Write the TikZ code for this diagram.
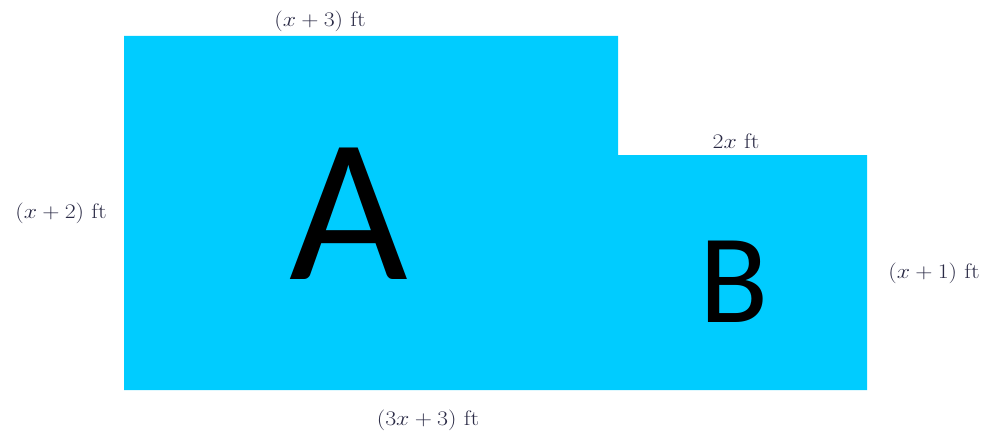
\documentclass[tikz,border=0pt]{standalone}
\usepackage{fontspec}
\newfontfamily\letterfont{Carlito}
\definecolor{pool}{HTML}{00CCFF}
\definecolor{ink}{HTML}{2A2A45}
\begin{document}
\begin{tikzpicture}[x=1pt,y=-1pt,
  dim/.style={text=ink,font=\fontsize{21}{23}\selectfont,inner sep=0pt,anchor=center},
  big/.style={text=black,inner sep=0pt,anchor=center}]
\useasboundingbox (0,0) rectangle (990,436);
\fill[pool] (124,36) -- (618,36) -- (618,155) -- (867,155) -- (867,390) -- (124,390) -- cycle;
\node[dim] (top) at (320,21) {\scalebox{1.15}[1]{$(x+3)$ ft}};
\node[dim] (step) at (736,141) {\scalebox{1.15}[1]{$2x$ ft}};
\node[dim] (left) at (61,213) {\scalebox{1.15}[1]{$(x+2)$ ft}};
\node[dim] (right) at (934,273) {\scalebox{1.15}[1]{$(x+1)$ ft}};
\node[dim] (bottom) at (428,420) {\scalebox{1.15}[1]{$(3x+3)$ ft}};
\node[big,font=\letterfont\fontsize{205}{210}\selectfont] (A) at (349,214) {A};
\node[big,font=\letterfont\fontsize{127}{130}\selectfont] (B) at (734,282) {B};
\end{tikzpicture}
\end{document}
